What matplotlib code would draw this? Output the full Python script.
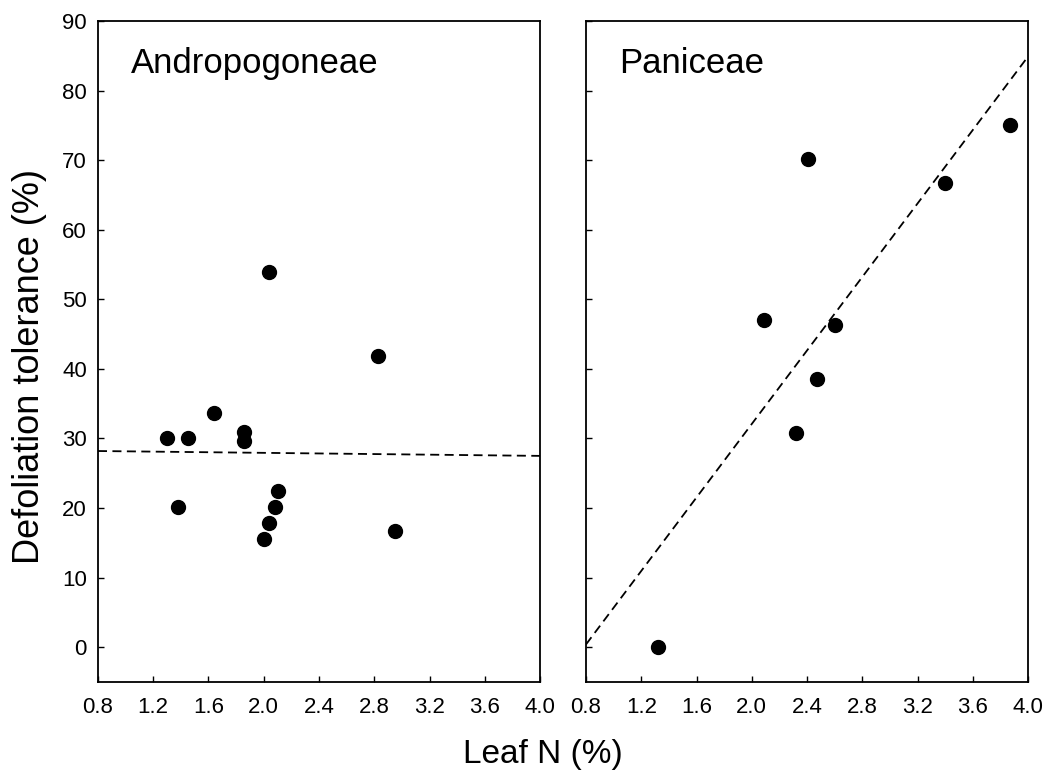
import numpy as np
import matplotlib
matplotlib.use("Agg")
import matplotlib.pyplot as plt

plt.rcParams['font.family'] = ['Liberation Sans', 'DejaVu Sans']

# Andropogoneae: leaf N (%) vs defoliation tolerance (%)
andro_n = [2.04, 2.83, 1.64, 1.30, 1.45, 1.86, 1.86, 2.10, 2.08, 2.04, 2.00, 1.38, 2.95]
andro_tol = [54.0, 41.9, 33.6, 30.1, 30.1, 30.9, 29.7, 22.4, 20.2, 17.8, 15.6, 20.2, 16.7]
andro_fit_n = [0.8, 4.0]
andro_fit_tol = [28.2, 27.5]

# Paniceae
pan_n = [1.32, 2.09, 2.32, 2.41, 2.47, 2.60, 3.40, 3.87]
pan_tol = [0.0, 47.0, 30.8, 70.1, 38.6, 46.3, 66.7, 75.1]
pan_fit_n = [0.8, 4.0]
pan_fit_tol = [0.4, 84.9]

xticks = [0.8, 1.2, 1.6, 2.0, 2.4, 2.8, 3.2, 3.6, 4.0]
yticks = [0, 10, 20, 30, 40, 50, 60, 70, 80, 90]

fig = plt.figure(figsize=(10.57, 7.79), dpi=100)
ax1 = fig.add_axes([0.0927, 0.1245, 0.4182, 0.8485])
ax2 = fig.add_axes([0.5544, 0.1245, 0.4182, 0.8485])

panels = [
    (ax1, andro_n, andro_tol, andro_fit_n, andro_fit_tol, 'Andropogoneae'),
    (ax2, pan_n, pan_tol, pan_fit_n, pan_fit_tol, 'Paniceae'),
]

for ax, xs, ys, fx, fy, name in panels:
    ax.plot(fx, fy, color='black', linestyle=(0, (5, 3)), linewidth=1.3)
    ax.plot(xs, ys, 'o', color='black', markersize=10, zorder=3)
    ax.set_xlim(0.8, 4.0)
    ax.set_ylim(-5, 90)
    ax.set_xticks(xticks)
    ax.set_xticklabels(['%.1f' % t for t in xticks])
    ax.set_yticks(yticks)
    ax.tick_params(direction='in', length=4, width=1, labelsize=16)
    ax.tick_params(axis='x', pad=11)
    ax.tick_params(axis='y', pad=8)
    for sp in ax.spines.values():
        sp.set_linewidth(1.3)
    ax.text(0.075, 0.935, name, transform=ax.transAxes, fontsize=25,
            va='center', ha='left')

ax2.set_yticklabels([])

fig.text(0.514, 0.032, 'Leaf N (%)', fontsize=24, ha='center', va='center')
fig.text(0.028, 0.53, 'Defoliation tolerance (%)', fontsize=26,
         rotation=90, ha='center', va='center')

fig.savefig('out.png', dpi=100)
